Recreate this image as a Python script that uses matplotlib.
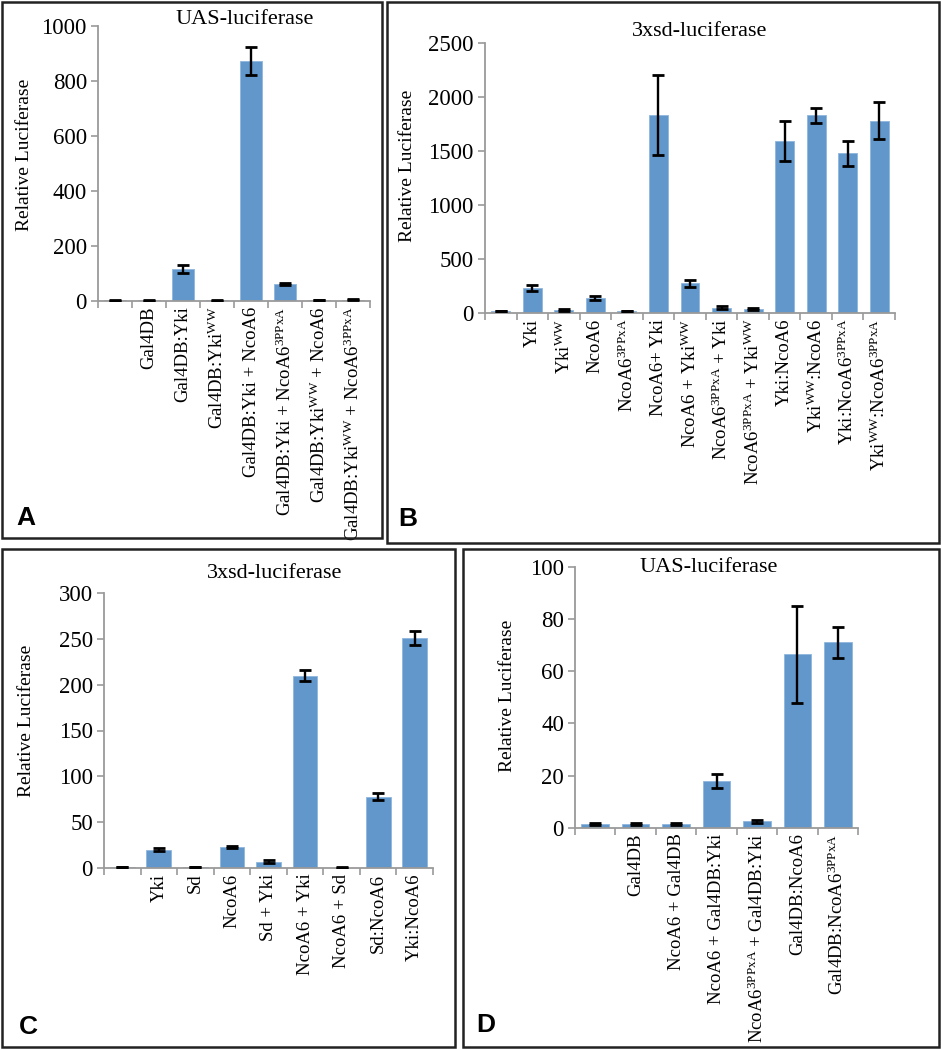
import matplotlib
matplotlib.use("Agg")
import matplotlib.pyplot as plt
from matplotlib.patches import Rectangle
import numpy as np

plt.rcParams['font.family'] = ['Liberation Serif', 'DejaVu Serif']
plt.rcParams['mathtext.fontset'] = 'custom'
plt.rcParams['mathtext.rm'] = 'Liberation Serif'
plt.rcParams['mathtext.it'] = 'Liberation Serif:italic'
plt.rcParams['mathtext.bf'] = 'Liberation Serif:bold'

WW = r"$^{\mathrm{WW}}$"
PP = r"$^{\mathrm{3PPxA}}$"

# Panel A data
labels_a = ["", "Gal4DB", "Gal4DB:Yki", "Gal4DB:Yki" + WW, "Gal4DB:Yki + NcoA6",
            "Gal4DB:Yki + NcoA6" + PP, "Gal4DB:Yki" + WW + " + NcoA6",
            "Gal4DB:Yki" + WW + " + NcoA6" + PP]
values_a = [2, 2, 116, 2, 873, 62, 3, 5]
errors_a = [1, 1, 15, 1, 50, 5, 1, 1]
ticks_a = [0, 200, 400, 600, 800, 1000]

# Panel B data
labels_b = ["", "Yki", "Yki" + WW, "NcoA6", "NcoA6" + PP, "NcoA6+ Yki",
            "NcoA6 + Yki" + WW, "NcoA6" + PP + " + Yki", "NcoA6" + PP + " + Yki" + WW,
            "Yki:NcoA6", "Yki" + WW + ":NcoA6", "Yki:NcoA6" + PP, "Yki" + WW + ":NcoA6" + PP]
values_b = [20, 230, 25, 140, 20, 1830, 275, 50, 40, 1595, 1830, 1480, 1780]
errors_b = [3, 30, 8, 20, 3, 370, 30, 15, 8, 185, 70, 115, 170]
ticks_b = [0, 500, 1000, 1500, 2000, 2500]

# Panel C data
labels_c = ["", "Yki", "Sd", "NcoA6", "Sd + Yki", "NcoA6 + Yki", "NcoA6 + Sd",
            "Sd:NcoA6", "Yki:NcoA6"]
values_c = [1, 20, 1, 23, 7, 210, 0.5, 78, 251]
errors_c = [0.3, 1.5, 0.3, 1.2, 2, 6, 0.2, 4, 8]
ticks_c = [0, 50, 100, 150, 200, 250, 300]

# Panel D data
labels_d = ["", "Gal4DB", "NcoA6 + Gal4DB", "NcoA6 + Gal4DB:Yki",
            "NcoA6" + PP + " + Gal4DB:Yki", "Gal4DB:NcoA6", "Gal4DB:NcoA6" + PP]
values_d = [1.5, 1.5, 1.5, 18, 2.5, 66.5, 71]
errors_d = [0.3, 0.3, 0.3, 2.8, 0.5, 18.5, 6]
ticks_d = [0, 20, 40, 60, 80, 100]

W, H = 941, 1050
fig = plt.figure(figsize=(W / 100, H / 100), dpi=100)
BAR = '#6297CC'
GRAY = '#9a9a9a'


def fx(px):
    return px / W


def fy(py):
    return 1 - py / H


def panel(rect_px, labels, values, errors, ticks, width, title, title_xy,
          ylab_xy, letter, letter_xy, box):
    l, r, t, b = rect_px
    ax = fig.add_axes([fx(l), fy(b), fx(r - l), (b - t) / H])
    n = len(values)
    x = np.arange(n)
    ax.bar(x, values, width=width, color=BAR, edgecolor='#8fb6dd', linewidth=0.6, zorder=2)
    ax.errorbar(x, values, yerr=errors, fmt='none', ecolor='black', elinewidth=1.7,
                capsize=4.5, capthick=2.0, zorder=3)
    ax.set_xlim(-0.5, n - 0.5)
    ax.set_ylim(ticks[0], ticks[-1])
    ax.set_yticks(ticks)
    ax.set_yticklabels([str(v) for v in ticks], fontsize=16.5)
    ax.set_xticks(np.arange(n + 1) - 0.5)
    ax.set_xticklabels([])
    ax.set_xticks(x, minor=True)
    ax.set_xticklabels(labels, minor=True, rotation=90, fontsize=13.5, va='top', ha='center')
    ax.tick_params(axis='x', which='major', length=5, color=GRAY, width=1.2, direction='out')
    ax.tick_params(axis='x', which='minor', length=0, pad=4)
    ax.tick_params(axis='y', length=5, color=GRAY, width=1.2, direction='out', pad=3)
    for s in ['top', 'right']:
        ax.spines[s].set_visible(False)
    for s in ['left', 'bottom']:
        ax.spines[s].set_color(GRAY)
        ax.spines[s].set_linewidth(1.3)
    fig.text(fx(title_xy[0]), fy(title_xy[1]), title, fontsize=16, ha='center', va='center')
    fig.text(fx(ylab_xy[0]), fy(ylab_xy[1]), "Relative Luciferase", fontsize=14,
             rotation=90, ha='center', va='center')
    fig.text(fx(letter_xy[0]), fy(letter_xy[1]), letter, fontsize=19, fontweight='bold',
             family='Liberation Sans', ha='center', va='center')
    bl, bt, br, bb = box
    fig.patches.append(Rectangle((fx(bl), fy(bb)), fx(br - bl), (bb - bt) / H,
                                 transform=fig.transFigure, fill=False,
                                 edgecolor='#222222', linewidth=1.8))
    return ax


panel((98, 370, 26, 301), labels_a, values_a, errors_a, ticks_a, 0.67,
      "UAS-luciferase", (245, 20), (25, 155), "A", (26, 518), (2, 2, 382, 538))
panel((485, 895, 43, 313), labels_b, values_b, errors_b, ticks_b, 0.6,
      "3xsd-luciferase", (700, 32), (408, 166), "B", (408, 519), (387, 2, 939, 543))
panel((104, 433, 593, 868), labels_c, values_c, errors_c, ticks_c, 0.68,
      "3xsd-luciferase", (275, 573), (27, 721), "C", (28, 1027), (2, 549, 455, 1047))
panel((575, 858, 566.7, 828), labels_d, values_d, errors_d, ticks_d, 0.68,
      "UAS-luciferase", (709, 567), (507, 696), "D", (486, 1025), (463, 549, 939, 1047))

fig.savefig("out.png", dpi=100)
